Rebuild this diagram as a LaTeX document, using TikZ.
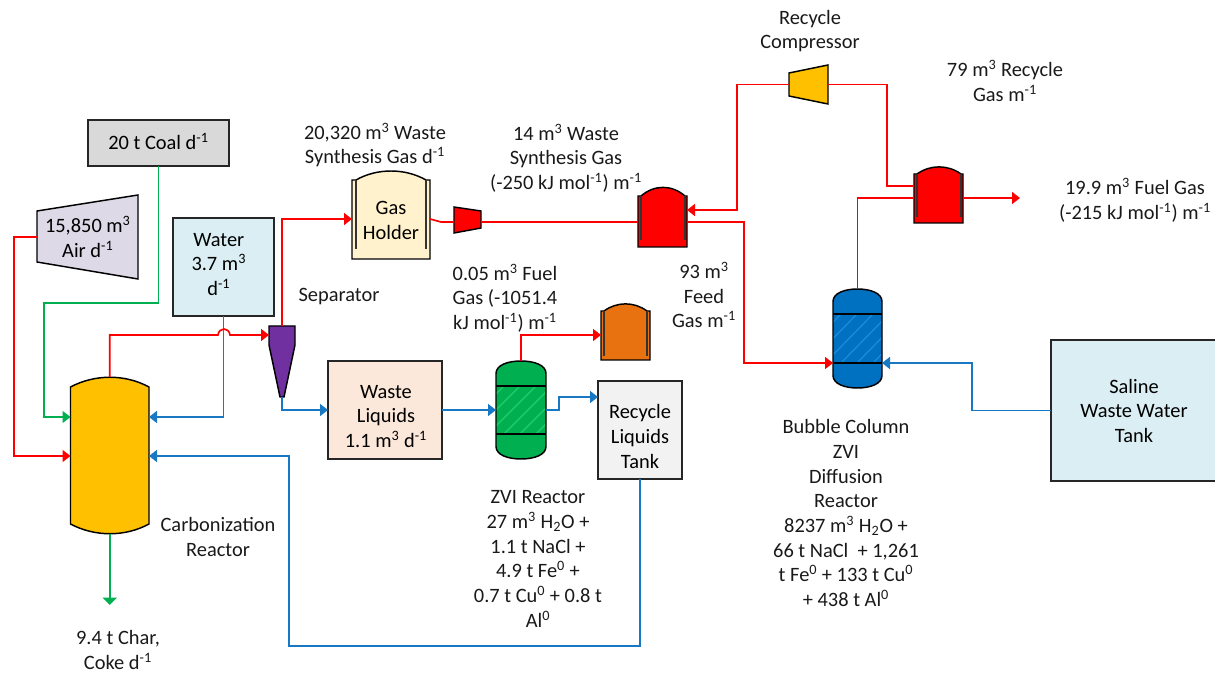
\documentclass[tikz,border=0pt]{standalone}
\usepackage{fontspec}
\setmainfont{Carlito}
\usetikzlibrary{arrows.meta,fit}
\definecolor{cred}{HTML}{FF0000}
\definecolor{cblue}{HTML}{1878C4}
\definecolor{cgreen}{HTML}{00B050}
\definecolor{cstripeg}{HTML}{1FCF6C}
\definecolor{cfillb}{HTML}{0070C0}
\definecolor{cstripeb}{HTML}{1E8BE0}
\definecolor{ccoal}{HTML}{D9D9D9}
\definecolor{cair}{HTML}{DDD9E6}
\definecolor{cwater}{HTML}{DAEEF3}
\definecolor{cwaste}{HTML}{FBE8DA}
\definecolor{cholder}{HTML}{FFF2CC}
\definecolor{ctank}{HTML}{F2F2F2}
\definecolor{camber}{HTML}{FFC000}
\definecolor{corange}{HTML}{E97210}
\definecolor{cviolet}{HTML}{7030A0}
\newcommand\su[1]{\textsuperscript{#1}}
\newcommand\inbox[3]{\makebox[0pt]{\hspace*{#1}\raisebox{#2}[0pt][0pt]{\begin{tabular}{@{}c@{}}#3\end{tabular}}}}
\tikzset{
  ghost/.style={inner sep=0pt,outer sep=0pt},
  eqbox/.style={ghost,draw=black!85,line width=1.2pt},
  lbl/.style={align=center,inner sep=0pt,text=black!90},
  ln/.style={line width=1.25pt,line join=miter},
  redln/.style={ln,draw=cred},
  blueln/.style={ln,draw=cblue},
  greenln/.style={ln,draw=cgreen},
  tip/.style={-{Triangle[length=6pt,width=9pt]}},
  outl/.style={draw=black,line width=1.1pt,line join=miter},
}
% fill, x1, x2, inner x1, inner x2, control y, shoulder y, bottom y, inner-line low y
\newcommand\holdershape[9]{
  \filldraw[outl,fill=#1] (#2,#7) -- (#4,#7) .. controls ({#4+0.3*(#5-#4)},#6) and ({#4+0.7*(#5-#4)},#6) .. (#5,#7) -- (#3,#7) -- (#3,#8) -- (#2,#8) -- cycle;
  \draw[draw=black!80,line width=1.1pt] (#4,#7) -- (#4,#9) (#5,#7) -- (#5,#9);
}
% fill, stripe colour, x1, x2, top, bottom, band top, band bottom
\newcommand\columnshape[8]{
  \fill[#1] (#3,{#5+12.5}) .. controls (#3,{#5+4}) and ({#3+12},#5) .. ({(#3+#4)/2},#5) .. controls ({#4-12},#5) and (#4,{#5+4}) .. (#4,{#5+12.5}) -- (#4,{#6-12.5}) .. controls (#4,{#6-4}) and ({#4-12},#6) .. ({(#3+#4)/2},#6) .. controls ({#3+12},#6) and (#3,{#6-4}) .. (#3,{#6-12.5}) -- cycle;
  \begin{scope}
    \clip (#3,#7) rectangle (#4,#8);
    \foreach \k in {-40,-24,...,110} {
      \draw[draw=#2,line width=0.9pt] ({#3+\k},#8) -- ({#3+\k+48},#7);
    }
  \end{scope}
  \draw[outl] (#3,{#5+12.5}) .. controls (#3,{#5+4}) and ({#3+12},#5) .. ({(#3+#4)/2},#5) .. controls ({#4-12},#5) and (#4,{#5+4}) .. (#4,{#5+12.5}) -- (#4,{#6-12.5}) .. controls (#4,{#6-4}) and ({#4-12},#6) .. ({(#3+#4)/2},#6) .. controls ({#3+12},#6) and (#3,{#6-4}) .. (#3,{#6-12.5}) -- cycle;
  \draw[outl] (#3,#7) -- (#4,#7) (#3,#8) -- (#4,#8);
}
\begin{document}
\begin{tikzpicture}[x=0.75pt,y=-0.75pt,font=\fontsize{15.3}{18.5}\selectfont]
\useasboundingbox (0,0) rectangle (1215,673);

% ---- boxes carrying text
\node[eqbox,line width=1.5pt,fill=ccoal,fit={(88,120)(229,166)}] (coal) {\inbox{0pt}{-5pt}{20 t Coal d\su{-1}}};
\node[eqbox,fill=cwater,fit={(173,218)(274,316)}] (water) {\inbox{-7pt}{-2.75pt}{Water\\3.7 m\su{3}\\d\su{-1}}};
\node[eqbox,fill=cwaste,fit={(328,361)(442,459)}] (waste) {\inbox{1.5pt}{-9.5pt}{Waste\\Liquids\\1.1 m\su{3} d\su{-1}}};
\node[eqbox,line width=1.3pt,fill=ctank,fit={(598,381)(682,479)}] (tank) {\inbox{0pt}{-10pt}{Recycle\\Liquids\\Tank}};
\node[eqbox,fill=cwater,fit={(1051,340)(1217,481)}] (saline) {\inbox{0pt}{-5.5pt}{Saline\\Waste Water\\Tank}};

% ---- air compressor
\filldraw[outl,fill=cair] (37,211) -- (138,195) -- (138,279) -- (37,262) -- cycle;
\node[ghost,fit={(37,195)(138,279)}] (air) {\inbox{0.5pt}{-6pt}{15,850 m\su{3}\\Air d\su{-1}}};

% ---- gas holders
\holdershape{cholder}{352}{430}{356}{426}{168}{180}{259}{249}
\node[ghost,fit={(352,171)(430,259)}] (holder) {\inbox{0pt}{-9pt}{Gas\\Holder}};
\holdershape{cred}{638}{687}{641}{685}{184.5}{196}{247}{240}
\node[ghost,fit={(638,191)(687,247)}] (rA) {};
\holdershape{cred}{914}{963}{917}{961}{164.5}{174}{223}{217}
\node[ghost,fit={(914,167)(963,223)}] (rB) {};
\holdershape{corange}{601}{650}{604}{647}{301.5}{311}{360}{356}
\node[ghost,fit={(601,304)(650,360)}] (orangeH) {};

% ---- compressors
\filldraw[outl,fill=cred] (454,207) -- (481,211) -- (481,228) -- (454,233) -- cycle;
\node[ghost,fit={(454,207)(481,233)}] (compS) {};
\filldraw[outl,fill=camber] (789,73) -- (828,65) -- (828,104) -- (789,96) -- cycle;
\node[ghost,fit={(789,65)(828,104)}] (compR) {};

% ---- separator
\filldraw[outl,fill=cviolet] (269,326) -- (295,326) -- (295,345) -- (284,397) -- (280,397) -- (269,345) -- cycle;
\node[ghost,fit={(269,326)(295,397)}] (sep) {};

% ---- carbonization reactor
\filldraw[outl,fill=camber] (70.5,387) .. controls (95,374) and (125,374) .. (149,387) -- (149,524) .. controls (125,537) and (95,537) .. (70.5,524) -- cycle;
\node[ghost,fit={(70.5,377)(149,534)}] (carb) {};

% ---- packed columns
\columnshape{cgreen}{cstripeg}{496}{546}{361}{459}{386}{434}
\node[ghost,fit={(496,361)(546,459)}] (zvi) {};
\columnshape{cfillb}{cstripeb}{833}{882}{289}{388}{314}{363}
\node[ghost,fit={(833,289)(882,388)}] (col) {};

% ---- free ends
\coordinate (charEnd) at (109.75,605);
\coordinate (fuelEnd) at (1020,198);

% ---- connectors
\draw[greenln,tip] (coal.south) -- (158.5,303) -- (44,303) |- (carb.west |- 0,417);
\draw[redln,tip] (air.west) -- (14,237) |- (carb.west |- 0,456);
\draw[blueln,tip] (water.south) |- (carb.east |- 0,417);
\draw[redln,tip] (carb.north) -- (109.75,335) -- (218,335) .. controls (219,327) and (229,327) .. (230,335) -- (sep.west |- 0,335);
\draw[greenln,-{Triangle[length=5.5pt,width=10.5pt]}] (carb.south) -- (charEnd);
\draw[redln,tip] (sep.north) |- (holder.west |- 0,219);
\draw[blueln,tip] (sep.south) |- (waste.west);
\draw[blueln,tip] (waste.east) -- (zvi.west);
\draw[blueln,tip] (zvi.east) -- (559,410) |- (tank.west |- 0,397);
\draw[redln,tip] (zvi.north) |- (orangeH.west |- 0,335);
\draw[blueln,tip] (tank.south) |- (289,646) |- (carb.east |- 0,456);
\draw[redln] (holder.east |- 0,219) -- (441,222) -- (compS.west |- 0,222);
\draw[redln] (compS.east |- 0,222) -- (rA.west |- 0,222);
\draw[redln,tip] (compR.west) -- (737,84.5) |- (rA.east |- 0,210);
\draw[redln,tip] (rA.east |- 0,222) -- (744,222) |- (col.west |- 0,363);
\draw[redln] (compR.east) -- (887,84.5) |- (rB.west |- 0,186);
\draw[redln] (col.north) |- (rB.west |- 0,198);
\draw[redln,tip] (rB.east |- 0,198) -- (fuelEnd);
\draw[blueln,tip] (saline.west) -- (972,410.5) |- (col.east |- 0,363);

% ---- labels
\node[lbl] (tRC) at (810,31) {Recycle\\Compressor};
\node[lbl] (tRG) at (1005,81) {79 m\su{3} Recycle\\Gas m\su{-1}};
\node[lbl] (tWS) at (375,145) {20,320 m\su{3} Waste\\Synthesis Gas d\su{-1}};
\node[lbl] (tWG) at (566,158) {14 m\su{3} Waste\\Synthesis Gas\\(-250 kJ mol\su{-1}) m\su{-1}};
\node[lbl] (tFG) at (1135,200) {19.9 m\su{3} Fuel Gas\\(-215 kJ mol\su{-1}) m\su{-1}};
\node[lbl] (tFd) at (704,295) {93 m\su{3}\\Feed\\Gas m\su{-1}};
\node[lbl] (tFu) at (505,298) {0.05 m\su{3} Fuel\\Gas (-1051.4\\kJ mol\su{-1}) m\su{-1}};
\node[lbl] (tSp) at (339,297) {Separator};
\node[lbl] (tCR) at (218,537) {Carbonization\\Reactor};
\node[lbl] (tCh) at (118,650) {9.4 t Char,\\Coke d\su{-1}};
\node[lbl] (tZV) at (538,559) {ZVI Reactor\\27 m\su{3} H\textsubscript{2}O +\\1.1 t NaCl +\\4.9 t Fe\su{0} +\\0.7 t Cu\su{0} + 0.8 t\\Al\su{0}};
\node[lbl] (tBC) at (846,513) {Bubble Column\\ZVI\\Diffusion\\Reactor\\8237 m\su{3} H\textsubscript{2}O +\\66 t NaCl~ + 1,261\\t Fe\su{0} + 133 t Cu\su{0}\\+ 438 t Al\su{0}};
\end{tikzpicture}
\end{document}
